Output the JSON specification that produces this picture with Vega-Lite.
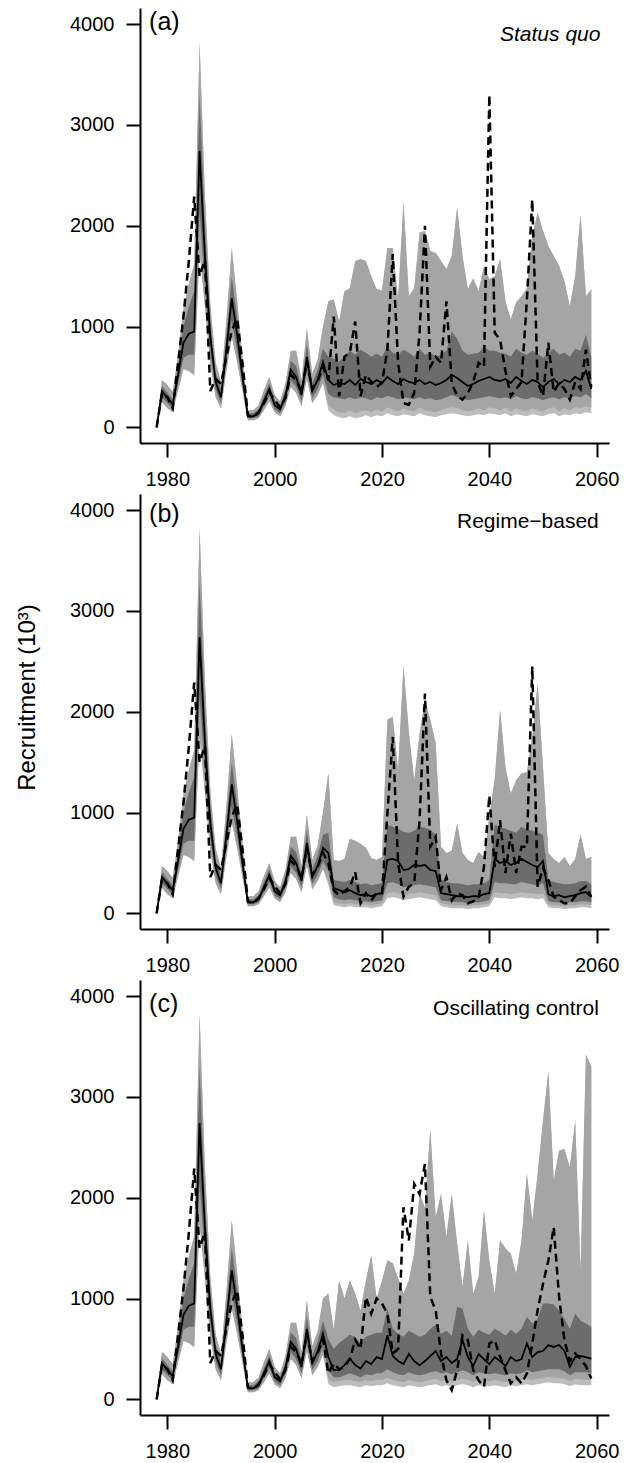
{
"$schema": "https://vega.github.io/schema/vega-lite/v6.json",
"background": "white",
"padding": {"left": 15, "top": 8, "right": 5, "bottom": 1},
"bounds": "flush",
"spacing": 51,
"config": {
 "view": {"stroke": null},
 "font": "Liberation Sans",
 "axis": {"grid": false, "domainColor": "black", "domainWidth": 2, "tickColor": "black", "tickWidth": 2, "tickSize": 14, "labelFont": "Liberation Sans", "labelFontSize": 20, "labelColor": "black", "titleFont": "Liberation Sans", "titleFontSize": 24, "titleFontWeight": "normal", "titleColor": "black"},
 "axisX": {"labelPadding": 12},
 "axisY": {"labelPadding": 12, "titlePadding": 30},
 "text": {"font": "Liberation Sans", "color": "black"}
},
"data": {"values": [
{"p":"h","year":1978,"med":0,"ilo":0,"ihi":0,"lo":0,"mlo":0,"hi":0,"dash":0},
{"p":"h","year":1979,"med":360,"ilo":300,"ihi":410,"lo":250,"mlo":250,"hi":470,"dash":340},
{"p":"h","year":1980,"med":290,"ilo":240,"ihi":340,"lo":190,"mlo":190,"hi":420,"dash":300},
{"p":"h","year":1981,"med":230,"ilo":190,"ihi":280,"lo":150,"mlo":150,"hi":350,"dash":190},
{"p":"h","year":1982,"med":520,"ilo":430,"ihi":620,"lo":370,"mlo":370,"hi":720,"dash":640},
{"p":"h","year":1983,"med":840,"ilo":690,"ihi":1000,"lo":580,"mlo":580,"hi":1180,"dash":1100},
{"p":"h","year":1984,"med":930,"ilo":720,"ihi":1200,"lo":560,"mlo":560,"hi":1420,"dash":1650},
{"p":"h","year":1985,"med":950,"ilo":720,"ihi":1350,"lo":520,"mlo":520,"hi":1620,"dash":2290},
{"p":"h","year":1986,"med":2740,"ilo":2150,"ihi":3300,"lo":1750,"mlo":1750,"hi":3820,"dash":1500},
{"p":"h","year":1987,"med":1700,"ilo":1400,"ihi":2000,"lo":1200,"mlo":1200,"hi":2300,"dash":1660},
{"p":"h","year":1988,"med":900,"ilo":740,"ihi":1060,"lo":620,"mlo":620,"hi":1220,"dash":360},
{"p":"h","year":1989,"med":450,"ilo":370,"ihi":540,"lo":300,"mlo":300,"hi":640,"dash":480},
{"p":"h","year":1990,"med":300,"ilo":240,"ihi":370,"lo":190,"mlo":190,"hi":450,"dash":430},
{"p":"h","year":1991,"med":780,"ilo":640,"ihi":910,"lo":560,"mlo":560,"hi":1060,"dash":700},
{"p":"h","year":1992,"med":1280,"ilo":1060,"ihi":1500,"lo":900,"mlo":900,"hi":1780,"dash":960},
{"p":"h","year":1993,"med":920,"ilo":760,"ihi":1090,"lo":650,"mlo":650,"hi":1260,"dash":1080},
{"p":"h","year":1994,"med":500,"ilo":420,"ihi":590,"lo":360,"mlo":360,"hi":690,"dash":640},
{"p":"h","year":1995,"med":110,"ilo":90,"ihi":140,"lo":70,"mlo":70,"hi":170,"dash":120},
{"p":"h","year":1996,"med":110,"ilo":90,"ihi":140,"lo":70,"mlo":70,"hi":170,"dash":100},
{"p":"h","year":1997,"med":140,"ilo":110,"ihi":180,"lo":90,"mlo":90,"hi":220,"dash":150},
{"p":"h","year":1998,"med":260,"ilo":210,"ihi":310,"lo":170,"mlo":170,"hi":370,"dash":240},
{"p":"h","year":1999,"med":380,"ilo":310,"ihi":440,"lo":260,"mlo":260,"hi":500,"dash":350},
{"p":"h","year":2000,"med":220,"ilo":180,"ihi":270,"lo":150,"mlo":150,"hi":320,"dash":270},
{"p":"h","year":2001,"med":180,"ilo":140,"ihi":220,"lo":110,"mlo":110,"hi":260,"dash":200},
{"p":"h","year":2002,"med":310,"ilo":250,"ihi":370,"lo":210,"mlo":210,"hi":430,"dash":290},
{"p":"h","year":2003,"med":570,"ilo":470,"ihi":660,"lo":400,"mlo":400,"hi":760,"dash":520},
{"p":"h","year":2004,"med":500,"ilo":400,"ihi":610,"lo":340,"mlo":340,"hi":760,"dash":470},
{"p":"h","year":2005,"med":320,"ilo":260,"ihi":390,"lo":210,"mlo":210,"hi":470,"dash":350},
{"p":"h","year":2006,"med":700,"ilo":560,"ihi":830,"lo":480,"mlo":480,"hi":980,"dash":650},
{"p":"h","year":2007,"med":360,"ilo":290,"ihi":440,"lo":240,"mlo":240,"hi":530,"dash":380},
{"p":"h","year":2008,"med":470,"ilo":380,"ihi":570,"lo":320,"mlo":320,"hi":670,"dash":460},
{"p":"h","year":2009,"med":650,"ilo":520,"ihi":780,"lo":440,"mlo":440,"hi":1000,"dash":600},
{"p":"a","year":2010,"med":470,"ilo":330,"ihi":700,"lo":170,"mlo":220,"hi":1250,"dash":470},
{"p":"a","year":2011,"med":420,"ilo":300,"ihi":680,"lo":120,"mlo":180,"hi":1270,"dash":1100},
{"p":"a","year":2012,"med":440,"ilo":290,"ihi":650,"lo":100,"mlo":150,"hi":1050,"dash":310},
{"p":"a","year":2013,"med":430,"ilo":280,"ihi":700,"lo":90,"mlo":140,"hi":1350,"dash":700},
{"p":"a","year":2014,"med":470,"ilo":300,"ihi":760,"lo":110,"mlo":170,"hi":1380,"dash":740},
{"p":"a","year":2015,"med":420,"ilo":280,"ihi":720,"lo":90,"mlo":140,"hi":1650,"dash":1050},
{"p":"a","year":2016,"med":480,"ilo":300,"ihi":770,"lo":100,"mlo":160,"hi":1670,"dash":310},
{"p":"a","year":2017,"med":450,"ilo":290,"ihi":740,"lo":120,"mlo":170,"hi":1650,"dash":520},
{"p":"a","year":2018,"med":430,"ilo":270,"ihi":700,"lo":100,"mlo":150,"hi":1500,"dash":450},
{"p":"a","year":2019,"med":470,"ilo":300,"ihi":730,"lo":120,"mlo":180,"hi":1370,"dash":400},
{"p":"a","year":2020,"med":440,"ilo":290,"ihi":700,"lo":110,"mlo":160,"hi":1360,"dash":440},
{"p":"a","year":2021,"med":500,"ilo":310,"ihi":800,"lo":140,"mlo":200,"hi":1780,"dash":770},
{"p":"a","year":2022,"med":460,"ilo":300,"ihi":740,"lo":120,"mlo":180,"hi":1780,"dash":1720},
{"p":"a","year":2023,"med":430,"ilo":280,"ihi":720,"lo":110,"mlo":160,"hi":1270,"dash":640},
{"p":"a","year":2024,"med":480,"ilo":300,"ihi":770,"lo":130,"mlo":190,"hi":2240,"dash":240},
{"p":"a","year":2025,"med":450,"ilo":290,"ihi":740,"lo":120,"mlo":170,"hi":1300,"dash":225},
{"p":"a","year":2026,"med":440,"ilo":280,"ihi":700,"lo":110,"mlo":160,"hi":1380,"dash":340},
{"p":"a","year":2027,"med":470,"ilo":300,"ihi":780,"lo":140,"mlo":200,"hi":1930,"dash":940},
{"p":"a","year":2028,"med":430,"ilo":280,"ihi":720,"lo":120,"mlo":170,"hi":1950,"dash":2000},
{"p":"a","year":2029,"med":450,"ilo":290,"ihi":740,"lo":110,"mlo":160,"hi":1750,"dash":600},
{"p":"a","year":2030,"med":420,"ilo":270,"ihi":700,"lo":100,"mlo":150,"hi":1730,"dash":700},
{"p":"a","year":2031,"med":440,"ilo":280,"ihi":720,"lo":120,"mlo":170,"hi":1650,"dash":640},
{"p":"a","year":2032,"med":470,"ilo":300,"ihi":760,"lo":130,"mlo":190,"hi":1570,"dash":1250},
{"p":"a","year":2033,"med":520,"ilo":320,"ihi":950,"lo":140,"mlo":200,"hi":1700,"dash":440},
{"p":"a","year":2034,"med":490,"ilo":300,"ihi":880,"lo":130,"mlo":190,"hi":2180,"dash":310},
{"p":"a","year":2035,"med":450,"ilo":290,"ihi":760,"lo":120,"mlo":170,"hi":1700,"dash":275},
{"p":"a","year":2036,"med":410,"ilo":270,"ihi":720,"lo":110,"mlo":160,"hi":1370,"dash":340},
{"p":"a","year":2037,"med":430,"ilo":280,"ihi":730,"lo":120,"mlo":170,"hi":1480,"dash":450},
{"p":"a","year":2038,"med":460,"ilo":290,"ihi":740,"lo":130,"mlo":190,"hi":1350,"dash":640},
{"p":"a","year":2039,"med":480,"ilo":300,"ihi":800,"lo":120,"mlo":170,"hi":1600,"dash":600},
{"p":"a","year":2040,"med":500,"ilo":310,"ihi":760,"lo":140,"mlo":200,"hi":1470,"dash":3300},
{"p":"a","year":2041,"med":470,"ilo":300,"ihi":760,"lo":130,"mlo":190,"hi":1500,"dash":940},
{"p":"a","year":2042,"med":460,"ilo":290,"ihi":740,"lo":120,"mlo":170,"hi":1670,"dash":870},
{"p":"a","year":2043,"med":480,"ilo":300,"ihi":730,"lo":140,"mlo":200,"hi":1250,"dash":560},
{"p":"a","year":2044,"med":440,"ilo":280,"ihi":700,"lo":110,"mlo":160,"hi":1070,"dash":310},
{"p":"a","year":2045,"med":500,"ilo":310,"ihi":780,"lo":130,"mlo":190,"hi":1240,"dash":380},
{"p":"a","year":2046,"med":460,"ilo":290,"ihi":740,"lo":120,"mlo":170,"hi":1300,"dash":450},
{"p":"a","year":2047,"med":430,"ilo":280,"ihi":720,"lo":110,"mlo":160,"hi":1380,"dash":1270},
{"p":"a","year":2048,"med":470,"ilo":300,"ihi":760,"lo":130,"mlo":190,"hi":1900,"dash":2260},
{"p":"a","year":2049,"med":450,"ilo":290,"ihi":730,"lo":120,"mlo":170,"hi":2130,"dash":450},
{"p":"a","year":2050,"med":400,"ilo":270,"ihi":690,"lo":110,"mlo":160,"hi":1950,"dash":310},
{"p":"a","year":2051,"med":450,"ilo":290,"ihi":740,"lo":130,"mlo":190,"hi":1800,"dash":840},
{"p":"a","year":2052,"med":480,"ilo":300,"ihi":780,"lo":140,"mlo":200,"hi":1700,"dash":350},
{"p":"a","year":2053,"med":430,"ilo":280,"ihi":720,"lo":110,"mlo":160,"hi":1600,"dash":440},
{"p":"a","year":2054,"med":470,"ilo":300,"ihi":740,"lo":130,"mlo":190,"hi":1450,"dash":380},
{"p":"a","year":2055,"med":450,"ilo":290,"ihi":700,"lo":120,"mlo":170,"hi":1200,"dash":275},
{"p":"a","year":2056,"med":500,"ilo":310,"ihi":780,"lo":140,"mlo":200,"hi":1500,"dash":450},
{"p":"a","year":2057,"med":470,"ilo":300,"ihi":760,"lo":130,"mlo":190,"hi":2110,"dash":380},
{"p":"a","year":2058,"med":560,"ilo":330,"ihi":920,"lo":150,"mlo":210,"hi":1300,"dash":770},
{"p":"a","year":2059,"med":380,"ilo":290,"ihi":700,"lo":140,"mlo":200,"hi":1370,"dash":400},
{"p":"b","year":2010,"med":600,"ilo":420,"ihi":800,"lo":280,"mlo":320,"hi":1390,"dash":500},
{"p":"b","year":2011,"med":250,"ilo":160,"ihi":330,"lo":80,"mlo":110,"hi":530,"dash":230},
{"p":"b","year":2012,"med":230,"ilo":140,"ihi":320,"lo":70,"mlo":100,"hi":520,"dash":180},
{"p":"b","year":2013,"med":210,"ilo":130,"ihi":310,"lo":60,"mlo":90,"hi":540,"dash":220},
{"p":"b","year":2014,"med":230,"ilo":140,"ihi":330,"lo":70,"mlo":100,"hi":740,"dash":260},
{"p":"b","year":2015,"med":200,"ilo":130,"ihi":310,"lo":60,"mlo":90,"hi":720,"dash":410},
{"p":"b","year":2016,"med":180,"ilo":120,"ihi":290,"lo":60,"mlo":90,"hi":690,"dash":100},
{"p":"b","year":2017,"med":190,"ilo":120,"ihi":300,"lo":60,"mlo":90,"hi":650,"dash":200},
{"p":"b","year":2018,"med":170,"ilo":110,"ihi":280,"lo":50,"mlo":80,"hi":550,"dash":130},
{"p":"b","year":2019,"med":190,"ilo":120,"ihi":290,"lo":60,"mlo":90,"hi":530,"dash":200},
{"p":"b","year":2020,"med":200,"ilo":130,"ihi":300,"lo":70,"mlo":100,"hi":560,"dash":200},
{"p":"b","year":2021,"med":530,"ilo":300,"ihi":880,"lo":150,"mlo":200,"hi":1920,"dash":990},
{"p":"b","year":2022,"med":540,"ilo":310,"ihi":860,"lo":160,"mlo":210,"hi":1950,"dash":1750},
{"p":"b","year":2023,"med":520,"ilo":290,"ihi":840,"lo":150,"mlo":200,"hi":1420,"dash":500},
{"p":"b","year":2024,"med":430,"ilo":260,"ihi":810,"lo":130,"mlo":180,"hi":2460,"dash":165},
{"p":"b","year":2025,"med":440,"ilo":270,"ihi":800,"lo":140,"mlo":190,"hi":1800,"dash":265},
{"p":"b","year":2026,"med":480,"ilo":280,"ihi":820,"lo":150,"mlo":200,"hi":1320,"dash":300},
{"p":"b","year":2027,"med":470,"ilo":290,"ihi":860,"lo":160,"mlo":210,"hi":1780,"dash":925},
{"p":"b","year":2028,"med":480,"ilo":280,"ihi":850,"lo":150,"mlo":200,"hi":2120,"dash":2180},
{"p":"b","year":2029,"med":430,"ilo":270,"ihi":830,"lo":140,"mlo":190,"hi":1920,"dash":660},
{"p":"b","year":2030,"med":420,"ilo":260,"ihi":780,"lo":130,"mlo":180,"hi":1690,"dash":760},
{"p":"b","year":2031,"med":200,"ilo":130,"ihi":330,"lo":70,"mlo":100,"hi":660,"dash":230},
{"p":"b","year":2032,"med":190,"ilo":120,"ihi":310,"lo":60,"mlo":90,"hi":600,"dash":360},
{"p":"b","year":2033,"med":180,"ilo":120,"ihi":300,"lo":50,"mlo":80,"hi":620,"dash":130},
{"p":"b","year":2034,"med":170,"ilo":110,"ihi":300,"lo":50,"mlo":80,"hi":890,"dash":200},
{"p":"b","year":2035,"med":170,"ilo":110,"ihi":290,"lo":50,"mlo":80,"hi":600,"dash":180},
{"p":"b","year":2036,"med":160,"ilo":100,"ihi":280,"lo":40,"mlo":70,"hi":530,"dash":100},
{"p":"b","year":2037,"med":170,"ilo":110,"ihi":290,"lo":50,"mlo":80,"hi":500,"dash":120},
{"p":"b","year":2038,"med":170,"ilo":110,"ihi":290,"lo":50,"mlo":80,"hi":610,"dash":150},
{"p":"b","year":2039,"med":190,"ilo":120,"ihi":300,"lo":60,"mlo":90,"hi":560,"dash":460},
{"p":"b","year":2040,"med":200,"ilo":130,"ihi":330,"lo":70,"mlo":100,"hi":960,"dash":1170},
{"p":"b","year":2041,"med":540,"ilo":310,"ihi":880,"lo":160,"mlo":210,"hi":1330,"dash":460},
{"p":"b","year":2042,"med":500,"ilo":300,"ihi":860,"lo":150,"mlo":200,"hi":2020,"dash":925},
{"p":"b","year":2043,"med":520,"ilo":300,"ihi":840,"lo":150,"mlo":200,"hi":1450,"dash":400},
{"p":"b","year":2044,"med":480,"ilo":290,"ihi":820,"lo":140,"mlo":190,"hi":1190,"dash":790},
{"p":"b","year":2045,"med":500,"ilo":290,"ihi":800,"lo":150,"mlo":200,"hi":1320,"dash":400},
{"p":"b","year":2046,"med":540,"ilo":310,"ihi":860,"lo":160,"mlo":210,"hi":1390,"dash":660},
{"p":"b","year":2047,"med":510,"ilo":300,"ihi":830,"lo":150,"mlo":200,"hi":1400,"dash":660},
{"p":"b","year":2048,"med":480,"ilo":290,"ihi":820,"lo":150,"mlo":200,"hi":1750,"dash":2450},
{"p":"b","year":2049,"med":460,"ilo":280,"ihi":800,"lo":140,"mlo":190,"hi":2280,"dash":265},
{"p":"b","year":2050,"med":520,"ilo":300,"ihi":780,"lo":150,"mlo":200,"hi":1450,"dash":450},
{"p":"b","year":2051,"med":190,"ilo":120,"ihi":330,"lo":60,"mlo":90,"hi":600,"dash":330},
{"p":"b","year":2052,"med":170,"ilo":110,"ihi":310,"lo":50,"mlo":80,"hi":540,"dash":165},
{"p":"b","year":2053,"med":180,"ilo":110,"ihi":300,"lo":50,"mlo":80,"hi":500,"dash":130},
{"p":"b","year":2054,"med":160,"ilo":100,"ihi":290,"lo":40,"mlo":70,"hi":560,"dash":100},
{"p":"b","year":2055,"med":170,"ilo":110,"ihi":290,"lo":50,"mlo":80,"hi":470,"dash":100},
{"p":"b","year":2056,"med":180,"ilo":110,"ihi":300,"lo":50,"mlo":80,"hi":540,"dash":170},
{"p":"b","year":2057,"med":200,"ilo":120,"ihi":320,"lo":60,"mlo":90,"hi":780,"dash":230},
{"p":"b","year":2058,"med":210,"ilo":120,"ihi":320,"lo":60,"mlo":90,"hi":540,"dash":265},
{"p":"b","year":2059,"med":160,"ilo":110,"ihi":290,"lo":50,"mlo":80,"hi":560,"dash":165},
{"p":"c","year":2010,"med":420,"ilo":290,"ihi":600,"lo":150,"mlo":200,"hi":1050,"dash":257},
{"p":"c","year":2011,"med":290,"ilo":220,"ihi":500,"lo":120,"mlo":170,"hi":690,"dash":356},
{"p":"c","year":2012,"med":290,"ilo":220,"ihi":560,"lo":130,"mlo":180,"hi":1180,"dash":300},
{"p":"c","year":2013,"med":340,"ilo":240,"ihi":600,"lo":140,"mlo":190,"hi":1000,"dash":320},
{"p":"c","year":2014,"med":405,"ilo":260,"ihi":640,"lo":140,"mlo":195,"hi":1180,"dash":400},
{"p":"c","year":2015,"med":340,"ilo":240,"ihi":620,"lo":130,"mlo":180,"hi":1050,"dash":590},
{"p":"c","year":2016,"med":307,"ilo":220,"ihi":560,"lo":120,"mlo":170,"hi":880,"dash":500},
{"p":"c","year":2017,"med":380,"ilo":250,"ihi":620,"lo":140,"mlo":195,"hi":1180,"dash":1015},
{"p":"c","year":2018,"med":350,"ilo":240,"ihi":640,"lo":130,"mlo":180,"hi":1430,"dash":850},
{"p":"c","year":2019,"med":420,"ilo":260,"ihi":660,"lo":140,"mlo":195,"hi":1000,"dash":1000},
{"p":"c","year":2020,"med":400,"ilo":260,"ihi":660,"lo":140,"mlo":195,"hi":1180,"dash":950},
{"p":"c","year":2021,"med":636,"ilo":300,"ihi":900,"lo":160,"mlo":215,"hi":1380,"dash":850},
{"p":"c","year":2022,"med":430,"ilo":270,"ihi":700,"lo":140,"mlo":195,"hi":1350,"dash":455},
{"p":"c","year":2023,"med":380,"ilo":250,"ihi":650,"lo":130,"mlo":180,"hi":1200,"dash":500},
{"p":"c","year":2024,"med":350,"ilo":240,"ihi":620,"lo":120,"mlo":170,"hi":1050,"dash":1906},
{"p":"c","year":2025,"med":450,"ilo":270,"ihi":680,"lo":140,"mlo":195,"hi":1180,"dash":1576},
{"p":"c","year":2026,"med":380,"ilo":250,"ihi":650,"lo":130,"mlo":180,"hi":1450,"dash":2137},
{"p":"c","year":2027,"med":340,"ilo":240,"ihi":620,"lo":120,"mlo":170,"hi":2037,"dash":2037},
{"p":"c","year":2028,"med":380,"ilo":250,"ihi":640,"lo":130,"mlo":180,"hi":1900,"dash":2334},
{"p":"c","year":2029,"med":430,"ilo":270,"ihi":700,"lo":140,"mlo":195,"hi":2680,"dash":1015},
{"p":"c","year":2030,"med":480,"ilo":280,"ihi":740,"lo":150,"mlo":205,"hi":1807,"dash":884},
{"p":"c","year":2031,"med":380,"ilo":260,"ihi":650,"lo":130,"mlo":180,"hi":2037,"dash":455},
{"p":"c","year":2032,"med":420,"ilo":270,"ihi":680,"lo":140,"mlo":195,"hi":1610,"dash":190},
{"p":"c","year":2033,"med":360,"ilo":250,"ihi":630,"lo":120,"mlo":170,"hi":2037,"dash":92},
{"p":"c","year":2034,"med":400,"ilo":270,"ihi":920,"lo":140,"mlo":195,"hi":1543,"dash":290},
{"p":"c","year":2035,"med":590,"ilo":290,"ihi":900,"lo":150,"mlo":205,"hi":1115,"dash":636},
{"p":"c","year":2036,"med":420,"ilo":270,"ihi":700,"lo":140,"mlo":195,"hi":1576,"dash":587},
{"p":"c","year":2037,"med":330,"ilo":240,"ihi":620,"lo":120,"mlo":170,"hi":1048,"dash":290},
{"p":"c","year":2038,"med":450,"ilo":270,"ihi":690,"lo":140,"mlo":195,"hi":1213,"dash":190},
{"p":"c","year":2039,"med":400,"ilo":260,"ihi":660,"lo":130,"mlo":180,"hi":1873,"dash":125},
{"p":"c","year":2040,"med":350,"ilo":250,"ihi":640,"lo":130,"mlo":180,"hi":1378,"dash":554},
{"p":"c","year":2041,"med":420,"ilo":260,"ihi":700,"lo":140,"mlo":195,"hi":1048,"dash":587},
{"p":"c","year":2042,"med":380,"ilo":250,"ihi":670,"lo":130,"mlo":180,"hi":1576,"dash":422},
{"p":"c","year":2043,"med":330,"ilo":240,"ihi":630,"lo":120,"mlo":170,"hi":1500,"dash":290},
{"p":"c","year":2044,"med":420,"ilo":260,"ihi":690,"lo":140,"mlo":195,"hi":1444,"dash":158},
{"p":"c","year":2045,"med":380,"ilo":250,"ihi":650,"lo":130,"mlo":180,"hi":1246,"dash":220},
{"p":"c","year":2046,"med":400,"ilo":260,"ihi":700,"lo":140,"mlo":195,"hi":1576,"dash":158},
{"p":"c","year":2047,"med":554,"ilo":290,"ihi":820,"lo":150,"mlo":205,"hi":2235,"dash":257},
{"p":"c","year":2048,"med":420,"ilo":270,"ihi":750,"lo":140,"mlo":195,"hi":1774,"dash":554},
{"p":"c","year":2049,"med":470,"ilo":280,"ihi":800,"lo":150,"mlo":205,"hi":2235,"dash":884},
{"p":"c","year":2050,"med":480,"ilo":290,"ihi":950,"lo":160,"mlo":215,"hi":2763,"dash":1147},
{"p":"c","year":2051,"med":537,"ilo":300,"ihi":950,"lo":170,"mlo":225,"hi":3258,"dash":1378},
{"p":"c","year":2052,"med":520,"ilo":300,"ihi":940,"lo":160,"mlo":215,"hi":2170,"dash":1708},
{"p":"c","year":2053,"med":540,"ilo":300,"ihi":880,"lo":160,"mlo":215,"hi":2466,"dash":1015},
{"p":"c","year":2054,"med":480,"ilo":280,"ihi":800,"lo":150,"mlo":205,"hi":2483,"dash":587},
{"p":"c","year":2055,"med":323,"ilo":240,"ihi":700,"lo":130,"mlo":180,"hi":2301,"dash":380},
{"p":"c","year":2056,"med":420,"ilo":270,"ihi":850,"lo":150,"mlo":205,"hi":2763,"dash":455},
{"p":"c","year":2057,"med":430,"ilo":270,"ihi":780,"lo":140,"mlo":195,"hi":1279,"dash":400},
{"p":"c","year":2058,"med":420,"ilo":270,"ihi":750,"lo":140,"mlo":195,"hi":3420,"dash":330},
{"p":"c","year":2059,"med":405,"ilo":260,"ihi":720,"lo":140,"mlo":195,"hi":3300,"dash":208}
]},
"vconcat": [
{
 "width": 469, "height": 435,
 "encoding": {"x": {"field": "year", "type": "quantitative", "scale": {"domain": [1974.9, 2062.3], "nice": false, "zero": false}, "axis": {"values": [1980, 2000, 2020, 2040, 2060], "format": "d", "title": null}}},
 "layer": [
  {"transform": [{"filter": "datum.p=='h'||datum.p=='a'"}], "mark": {"type": "area", "orient": "vertical", "color": "#bdbdbd"}, "encoding": {"y": {"field": "lo", "type": "quantitative", "scale": {"domain": [-155, 4160], "nice": false, "zero": false}, "axis": {"values": [0, 1000, 2000, 3000, 4000], "format": "d", "title": null}}, "y2": {"field": "hi"}}},
  {"transform": [{"filter": "datum.p=='h'||datum.p=='a'"}], "mark": {"type": "area", "orient": "vertical", "color": "#a5a5a5"}, "encoding": {"y": {"field": "mlo", "type": "quantitative", "scale": {"domain": [-155, 4160], "nice": false, "zero": false}, "axis": {"title": null}}, "y2": {"field": "hi"}}},
  {"transform": [{"filter": "datum.p=='h'||datum.p=='a'"}], "mark": {"type": "area", "orient": "vertical", "color": "#6c6c6c"}, "encoding": {"y": {"field": "ilo", "type": "quantitative", "scale": {"domain": [-155, 4160], "nice": false, "zero": false}, "axis": {"title": null}}, "y2": {"field": "ihi"}}},
  {"transform": [{"filter": "datum.p=='h'||datum.p=='a'"}], "mark": {"type": "line", "color": "black", "strokeWidth": 1.8}, "encoding": {"y": {"field": "med", "type": "quantitative", "scale": {"domain": [-155, 4160], "nice": false, "zero": false}, "axis": {"title": null}}}},
  {"transform": [{"filter": "datum.p=='h'||datum.p=='a'"}], "mark": {"type": "line", "color": "black", "strokeWidth": 2.5, "strokeDash": [8, 5]}, "encoding": {"y": {"field": "dash", "type": "quantitative", "scale": {"domain": [-155, 4160], "nice": false, "zero": false}, "axis": {"title": null}}}},
  {"transform": [{"filter": "datum.p=='h'&&datum.year==1978"}], "mark": {"type": "text", "align": "left", "baseline": "middle", "fontSize": 25, "color": "black"}, "encoding": {"x": {"datum": 1976.6}, "y": {"datum": 4020}, "text": {"value": "(a)"}}},
  {"transform": [{"filter": "datum.p=='h'&&datum.year==1978"}], "mark": {"type": "text", "align": "right", "baseline": "middle", "fontSize": 21, "fontStyle": "italic", "color": "black"}, "encoding": {"x": {"datum": 2060.7}, "y": {"datum": 3890}, "text": {"value": "Status quo"}}}
 ]
},
{
 "width": 469, "height": 435,
 "encoding": {"x": {"field": "year", "type": "quantitative", "scale": {"domain": [1974.9, 2062.3], "nice": false, "zero": false}, "axis": {"values": [1980, 2000, 2020, 2040, 2060], "format": "d", "title": null}}},
 "layer": [
  {"transform": [{"filter": "datum.p=='h'||datum.p=='b'"}], "mark": {"type": "area", "orient": "vertical", "color": "#bdbdbd"}, "encoding": {"y": {"field": "lo", "type": "quantitative", "scale": {"domain": [-155, 4160], "nice": false, "zero": false}, "axis": {"values": [0, 1000, 2000, 3000, 4000], "format": "d", "title": "Recruitment (10³)", "titleY": 203}}, "y2": {"field": "hi"}}},
  {"transform": [{"filter": "datum.p=='h'||datum.p=='b'"}], "mark": {"type": "area", "orient": "vertical", "color": "#a5a5a5"}, "encoding": {"y": {"field": "mlo", "type": "quantitative", "scale": {"domain": [-155, 4160], "nice": false, "zero": false}, "axis": {"title": "Recruitment (10³)"}}, "y2": {"field": "hi"}}},
  {"transform": [{"filter": "datum.p=='h'||datum.p=='b'"}], "mark": {"type": "area", "orient": "vertical", "color": "#6c6c6c"}, "encoding": {"y": {"field": "ilo", "type": "quantitative", "scale": {"domain": [-155, 4160], "nice": false, "zero": false}, "axis": {"title": "Recruitment (10³)"}}, "y2": {"field": "ihi"}}},
  {"transform": [{"filter": "datum.p=='h'||datum.p=='b'"}], "mark": {"type": "line", "color": "black", "strokeWidth": 1.8}, "encoding": {"y": {"field": "med", "type": "quantitative", "scale": {"domain": [-155, 4160], "nice": false, "zero": false}, "axis": {"title": "Recruitment (10³)"}}}},
  {"transform": [{"filter": "datum.p=='h'||datum.p=='b'"}], "mark": {"type": "line", "color": "black", "strokeWidth": 2.5, "strokeDash": [8, 5]}, "encoding": {"y": {"field": "dash", "type": "quantitative", "scale": {"domain": [-155, 4160], "nice": false, "zero": false}, "axis": {"title": "Recruitment (10³)"}}}},
  {"transform": [{"filter": "datum.p=='h'&&datum.year==1978"}], "mark": {"type": "text", "align": "left", "baseline": "middle", "fontSize": 25, "color": "black"}, "encoding": {"x": {"datum": 1976.6}, "y": {"datum": 3960}, "text": {"value": "(b)"}}},
  {"transform": [{"filter": "datum.p=='h'&&datum.year==1978"}], "mark": {"type": "text", "align": "right", "baseline": "middle", "fontSize": 21, "color": "black"}, "encoding": {"x": {"datum": 2060.4}, "y": {"datum": 3880}, "text": {"value": "Regime−based"}}}
 ]
},
{
 "width": 469, "height": 435,
 "encoding": {"x": {"field": "year", "type": "quantitative", "scale": {"domain": [1974.9, 2062.3], "nice": false, "zero": false}, "axis": {"values": [1980, 2000, 2020, 2040, 2060], "format": "d", "title": null}}},
 "layer": [
  {"transform": [{"filter": "datum.p=='h'||datum.p=='c'"}], "mark": {"type": "area", "orient": "vertical", "color": "#bdbdbd"}, "encoding": {"y": {"field": "lo", "type": "quantitative", "scale": {"domain": [-155, 4160], "nice": false, "zero": false}, "axis": {"values": [0, 1000, 2000, 3000, 4000], "format": "d", "title": null}}, "y2": {"field": "hi"}}},
  {"transform": [{"filter": "datum.p=='h'||datum.p=='c'"}], "mark": {"type": "area", "orient": "vertical", "color": "#a5a5a5"}, "encoding": {"y": {"field": "mlo", "type": "quantitative", "scale": {"domain": [-155, 4160], "nice": false, "zero": false}, "axis": {"title": null}}, "y2": {"field": "hi"}}},
  {"transform": [{"filter": "datum.p=='h'||datum.p=='c'"}], "mark": {"type": "area", "orient": "vertical", "color": "#6c6c6c"}, "encoding": {"y": {"field": "ilo", "type": "quantitative", "scale": {"domain": [-155, 4160], "nice": false, "zero": false}, "axis": {"title": null}}, "y2": {"field": "ihi"}}},
  {"transform": [{"filter": "datum.p=='h'||datum.p=='c'"}], "mark": {"type": "line", "color": "black", "strokeWidth": 1.8}, "encoding": {"y": {"field": "med", "type": "quantitative", "scale": {"domain": [-155, 4160], "nice": false, "zero": false}, "axis": {"title": null}}}},
  {"transform": [{"filter": "datum.p=='h'||datum.p=='c'"}], "mark": {"type": "line", "color": "black", "strokeWidth": 2.5, "strokeDash": [8, 5]}, "encoding": {"y": {"field": "dash", "type": "quantitative", "scale": {"domain": [-155, 4160], "nice": false, "zero": false}, "axis": {"title": null}}}},
  {"transform": [{"filter": "datum.p=='h'&&datum.year==1978"}], "mark": {"type": "text", "align": "left", "baseline": "middle", "fontSize": 25, "color": "black"}, "encoding": {"x": {"datum": 1976.6}, "y": {"datum": 3920}, "text": {"value": "(c)"}}},
  {"transform": [{"filter": "datum.p=='h'&&datum.year==1978"}], "mark": {"type": "text", "align": "right", "baseline": "middle", "fontSize": 21, "color": "black"}, "encoding": {"x": {"datum": 2060.4}, "y": {"datum": 3870}, "text": {"value": "Oscillating control"}}}
 ]
}
]
}
